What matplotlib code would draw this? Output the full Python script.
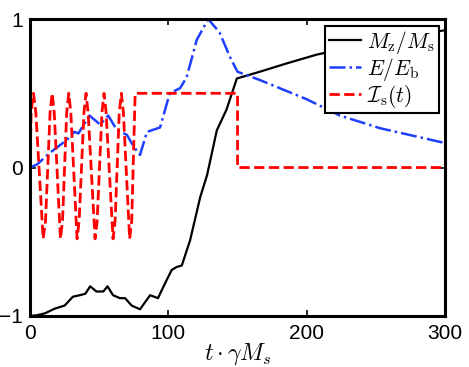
import numpy as np
import matplotlib
matplotlib.use("Agg")
import matplotlib.pyplot as plt

plt.rcParams['mathtext.fontset'] = 'cm'
plt.rcParams['font.family'] = ['Liberation Sans', 'DejaVu Sans']

# M_z / M_s
t_m = [0, 5, 10.8, 18, 25, 31, 36, 40, 43.5, 48, 53, 56, 60, 65, 68.7, 73.5, 79.5,
       86.8, 92.5, 97.6, 102.4, 106, 109.7, 115.7, 123, 128, 135, 142, 149.5,
       166, 185, 207, 250, 300]
m_z = [-1, -0.995, -0.982, -0.95, -0.93, -0.87, -0.86, -0.85, -0.8, -0.835, -0.835,
       -0.8, -0.86, -0.88, -0.88, -0.93, -0.955, -0.86, -0.88, -0.78, -0.69, -0.67,
       -0.66, -0.49, -0.2, -0.05, 0.25, 0.39, 0.6, 0.645, 0.7, 0.76, 0.85, 0.925]

# E / E_b
t_e = [0, 5, 14.5, 26.5, 32, 35, 43, 50.6, 56.5, 63, 70, 75, 79.5, 84.5, 94, 101,
       108.5, 113.3, 120.5, 128.8, 137, 144.5, 150, 166, 200, 224, 253, 300]
e_b = [0.0, 0.02, 0.1, 0.185, 0.24, 0.23, 0.35, 0.29, 0.35, 0.25, 0.22, 0.14, 0.085,
       0.24, 0.27, 0.5, 0.535, 0.61, 0.86, 1.0, 0.91, 0.745, 0.645, 0.59, 0.46,
       0.35, 0.265, 0.165]

# I_s(t)
t_i = [0, 0.8, 2.5, 4.2, 9.5, 11.2, 14.5, 16, 17.5, 22, 23.5, 26.5, 28, 29.5, 34,
       35.5, 39, 40.5, 42, 47, 48.5, 52, 53.5, 55, 60, 61.5, 64.5, 66, 67.5, 72,
       73.5, 76, 150, 150, 300]
i_s = [0, 0.37, 0.5, 0.37, -0.48, -0.36, 0.37, 0.5, 0.37, -0.48, -0.36, 0.37, 0.5,
       0.37, -0.48, -0.36, 0.37, 0.5, 0.37, -0.48, -0.36, 0.37, 0.5, 0.37, -0.48,
       -0.36, 0.37, 0.5, 0.37, -0.48, -0.36, 0.5, 0.5, 0, 0]

fig = plt.figure(figsize=(4.69, 3.67), dpi=100)
ax = fig.add_axes([0.064, 0.139, 0.885, 0.809])

ax.plot(t_m, m_z, color='k', lw=1.6, label=r'$M_\mathrm{z}/M_\mathrm{s}$')
ax.plot(t_e, e_b, color='#1f3fff', lw=1.8, ls='-.', label=r'$E/E_\mathrm{b}$')
ax.plot(t_i, i_s, color='#ff0000', lw=2, ls='--', label=r'$\mathcal{I}_\mathrm{s}(t)$')

ax.set_xlim(0, 300)
ax.set_ylim(-1, 1)
ax.set_xticks([0, 100, 200, 300])
ax.set_yticks([-1, 0, 1])
ax.tick_params(direction='in', length=4, width=1.2, top=True, right=True,
               labelsize=15)
ax.tick_params(axis='x', pad=6)
ax.tick_params(axis='y', pad=5)
for s in ax.spines.values():
    s.set_linewidth(2.2)
ax.set_xlabel(r'$t\cdot\gamma M_s$', fontsize=17, labelpad=-2)

leg = ax.legend(loc='upper right', fontsize=15.5, fancybox=False, framealpha=1,
                edgecolor='k', borderpad=0.15, labelspacing=0.0, handlelength=1.5,
                handletextpad=0.3, borderaxespad=0.3)
leg.get_frame().set_linewidth(1.5)

fig.savefig('out.png', dpi=100)
